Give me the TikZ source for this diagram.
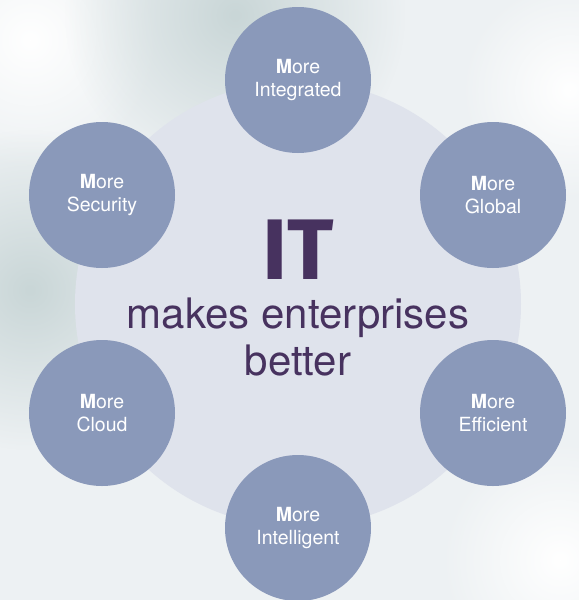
\documentclass[tikz,border=0pt]{standalone}
\usepackage{fontspec}
\usetikzlibrary{fadings}
\setmainfont{TeX Gyre Heros}
\newfontfamily\itfont{Fira Sans}
\definecolor{bgc}{HTML}{EDF1F3}
\definecolor{bigc}{HTML}{DFE3EC}
\definecolor{smallc}{HTML}{8A99BA}
\definecolor{txtc}{HTML}{47325F}
\definecolor{shadec}{HTML}{C9D6D7}
\tikzfading[name=fuzzy, inner color=transparent!0, outer color=transparent!100]
\tikzset{
  petal/.style={circle, fill=smallc, minimum size=146pt, inner sep=0pt, text=white,
    align=center, font=\fontsize{19.5}{23}\selectfont},
  glow/.style={path fading=fuzzy},
}
\newcommand{\more}[1]{\textbf{M}ore\\#1}
\begin{document}
\begin{tikzpicture}[x=1pt,y=-1pt]
\fill[bgc] (0,0) rectangle (579,600);
\useasboundingbox (0,0) rectangle (579,600);
\fill[white, glow] (30,40) circle (130);
\fill[white, glow] (570,90) circle (110);
\fill[shadec, glow] (235,15) circle (170);
\fill[shadec, glow] (30,290) circle (160);
\fill[white, glow] (560,560) circle (120);
\node[circle, fill=bigc, minimum size=446pt, inner sep=0pt] (big) at (298,304) {};
\node[text=txtc, font=\itfont\fontsize{86}{86}\bfseries\selectfont] (it) at (298,250) {IT};
\node[text=txtc, align=center, font=\fontsize{42}{47}\selectfont] (tag) at (298,337) {makes enterprises\\better};
\node[petal] (integrated) at (298,80) {\more{Integrated}};
\node[petal] (global) at (493,195) {\more{Global}};
\node[petal] (efficient) at (493,413) {\more{Efficient}};
\node[petal] (intelligent) at (298,528) {\more{Intelligent}};
\node[petal] (cloud) at (102,413) {\more{Cloud}};
\node[petal] (security) at (102,195) {\more{Security}};
\end{tikzpicture}
\end{document}
